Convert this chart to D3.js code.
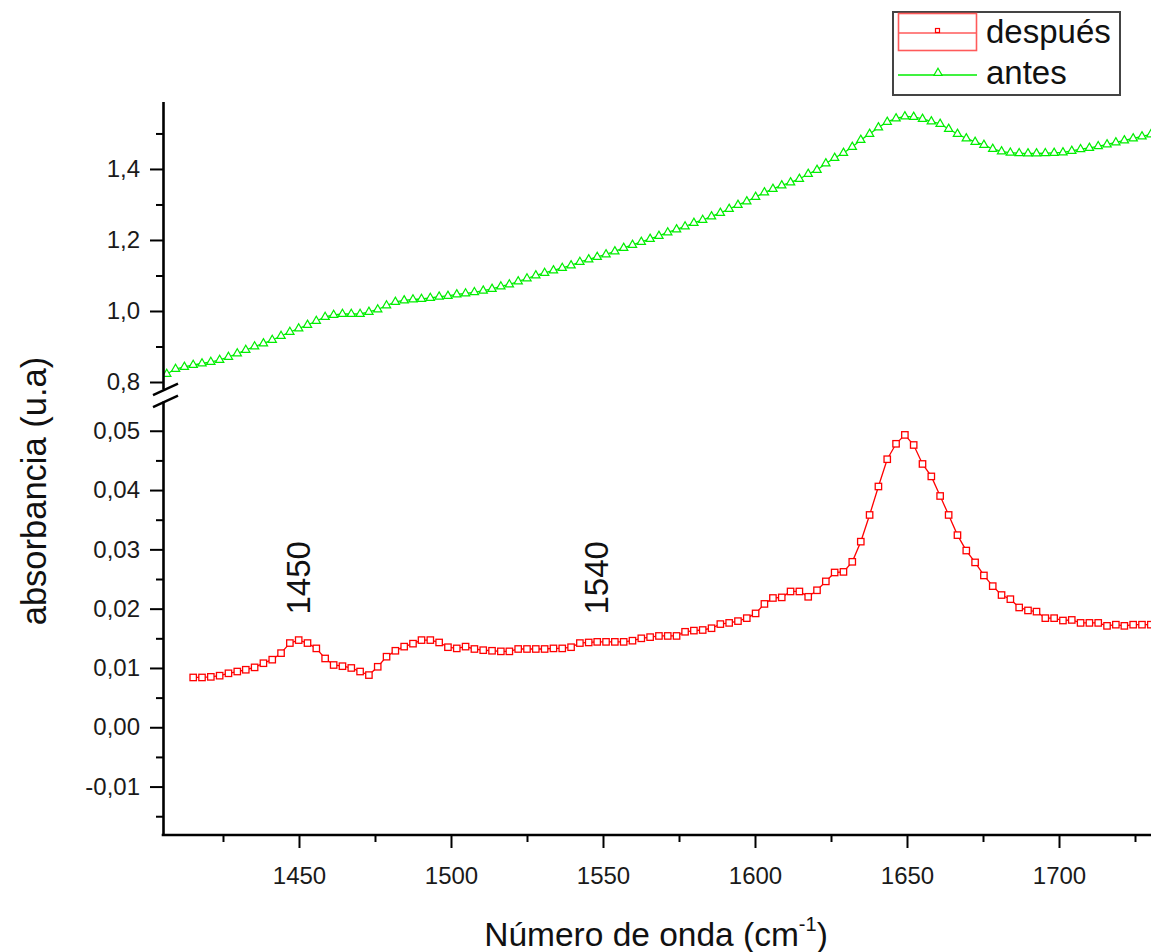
<!DOCTYPE html>
<html>
<head>
<meta charset="utf-8">
<script src="https://cdn.jsdelivr.net/npm/d3@7"></script>
<style>
  body { margin: 0; background: #fff; }
  svg { display: block; }
  text { font-family: "Liberation Sans", Arial, Helvetica, sans-serif; }
</style>
</head>
<body>
<svg id="chart" width="1151" height="952"></svg>
<script>
// Wavenumber grid (cm^-1) shared by both spectra
const wavenumber = [
  1403.6, 1406.5, 1409.4, 1412.3,
  1415.2, 1418.1, 1421.0, 1423.9, 1426.8, 1429.7, 1432.5, 1435.4, 1438.3, 1441.2,
  1444.1, 1447.0, 1449.9, 1452.8, 1455.7, 1458.6, 1461.4, 1464.3, 1467.2, 1470.1,
  1473.0, 1475.9, 1478.8, 1481.7, 1484.6, 1487.5, 1490.3, 1493.2, 1496.1, 1499.0,
  1501.9, 1504.8, 1507.7, 1510.6, 1513.5, 1516.4, 1519.2, 1522.1, 1525.0, 1527.9,
  1530.8, 1533.7, 1536.6, 1539.5, 1542.4, 1545.3, 1548.1, 1551.0, 1553.9, 1556.8,
  1559.7, 1562.6, 1565.5, 1568.4, 1571.3, 1574.2, 1577.0, 1579.9, 1582.8, 1585.7,
  1588.6, 1591.5, 1594.4, 1597.3, 1600.2, 1603.1, 1605.9, 1608.8, 1611.7, 1614.6,
  1617.5, 1620.4, 1623.3, 1626.2, 1629.1, 1632.0, 1634.8, 1637.7, 1640.6, 1643.5,
  1646.4, 1649.3, 1652.2, 1655.1, 1658.0, 1660.9, 1663.7, 1666.6, 1669.5, 1672.4,
  1675.3, 1678.2, 1681.1, 1684.0, 1686.9, 1689.8, 1692.6, 1695.5, 1698.4, 1701.3,
  1704.2, 1707.1, 1710.0, 1712.9, 1715.8, 1718.7, 1721.5, 1724.4, 1727.3, 1730.2
];

// Absorbance after treatment (lower axis segment)
const despues = [
  null, null, null, null,
  0.0084, 0.0084, 0.0085, 0.0087, 0.0091, 0.0094, 0.0097, 0.0101, 0.0108, 0.0114,
  0.0125, 0.0142, 0.0147, 0.0142, 0.0133, 0.0116, 0.0105, 0.0103, 0.0100, 0.0094,
  0.0088, 0.0102, 0.0119, 0.0129, 0.0136, 0.0141, 0.0147, 0.0147, 0.0143, 0.0135,
  0.0133, 0.0136, 0.0132, 0.0130, 0.0129, 0.0128, 0.0128, 0.0132, 0.0132, 0.0132,
  0.0132, 0.0133, 0.0133, 0.0135, 0.0142, 0.0143, 0.0144, 0.0144, 0.0144, 0.0144,
  0.0146, 0.0150, 0.0152, 0.0154, 0.0154, 0.0154, 0.0161, 0.0163, 0.0164, 0.0167,
  0.0174, 0.0176, 0.0179, 0.0184, 0.0192, 0.0208, 0.0218, 0.0219, 0.0229, 0.0229,
  0.0220, 0.0231, 0.0246, 0.0261, 0.0262, 0.0279, 0.0313, 0.0358, 0.0406, 0.0452,
  0.0478, 0.0493, 0.0476, 0.0444, 0.0423, 0.0390, 0.0358, 0.0324, 0.0298, 0.0278,
  0.0256, 0.0238, 0.0223, 0.0216, 0.0202, 0.0197, 0.0195, 0.0184, 0.0184, 0.0180,
  0.0181, 0.0176, 0.0176, 0.0176, 0.0171, 0.0173, 0.0171, 0.0173, 0.0173, 0.0173
];

// Absorbance before treatment (upper axis segment)
const antes = [
  0.8127, 0.8225, 0.8366, 0.8423,
  0.8479, 0.8521, 0.8563, 0.8620, 0.8704, 0.8803, 0.8901, 0.9000, 0.9085, 0.9183,
  0.9296, 0.9408, 0.9507, 0.9606, 0.9718, 0.9831, 0.9887, 0.9915, 0.9915, 0.9915,
  0.9972, 1.0042, 1.0155, 1.0254, 1.0296, 1.0324, 1.0338, 1.0366, 1.0403, 1.0423,
  1.0465, 1.0493, 1.0527, 1.0572, 1.0620, 1.0690, 1.0746, 1.0831, 1.0915, 1.1000,
  1.1070, 1.1141, 1.1211, 1.1282, 1.1380, 1.1451, 1.1521, 1.1592, 1.1676, 1.1775,
  1.1859, 1.1944, 1.2028, 1.2113, 1.2211, 1.2296, 1.2380, 1.2479, 1.2563, 1.2662,
  1.2761, 1.2873, 1.2986, 1.3085, 1.3211, 1.3338, 1.3437, 1.3535, 1.3620, 1.3718,
  1.3859, 1.3972, 1.4155, 1.4310, 1.4451, 1.4620, 1.4817, 1.4986, 1.5169, 1.5324,
  1.5423, 1.5479, 1.5465, 1.5408, 1.5338, 1.5268, 1.5127, 1.4986, 1.4859, 1.4761,
  1.4676, 1.4563, 1.4493, 1.4456, 1.4442, 1.4437, 1.4437, 1.4442, 1.4451, 1.4465,
  1.4507, 1.4555, 1.4592, 1.4639, 1.4690, 1.4746, 1.4803, 1.4859, 1.4915, 1.4972
];

const seriesNames = ["después", "antes"];

const xMajorTicks = [1450, 1500, 1550, 1600, 1650, 1700];
const xMinorTicks = [1425, 1475, 1525, 1575, 1625, 1675, 1725];
const yUpperMajorTicks = [0.8, 1.0, 1.2, 1.4];
const yUpperMinorTicks = [0.9, 1.1, 1.3, 1.5];
const yLowerMajorTicks = [-0.01, 0.00, 0.01, 0.02, 0.03, 0.04, 0.05];
const yLowerMinorTicks = [-0.015, -0.005, 0.005, 0.015, 0.025, 0.035, 0.045];

const bandLabels = ["1450", "1540"];

const xTitle = "Número de onda (cm";
const yTitle = "absorbancia (u.a)";

// ---------------------------------------------------------------
const svg = d3.select("#chart");
const W = 1151, H = 952;

const esLocale = d3.formatLocale({ decimal: ",", thousands: ".", grouping: [3], currency: ["", ""], minus: "-" });
const fmt1 = esLocale.format(".1f");
const fmt2 = esLocale.format(".2f");

const axisX = 163;      // y-axis position
const axisY = 835;      // x-axis position

const x = d3.scaleLinear().domain([1405.3, 1735]).range([163.1, 1165.4]);
const yUp = d3.scaleLinear().domain([0.78, 1.59]).range([389.1, 101.5]);
const yLo = d3.scaleLinear().domain([-0.0182, 0.055]).range([835.2, 401.1]);

const axisColor = "#000";
const red = "#ff0000";
const green = "#00ee00";

// clip for the data
svg.append("defs").append("clipPath").attr("id", "plotClip")
  .append("rect").attr("x", axisX + 1).attr("y", 0).attr("width", W).attr("height", axisY);

const plot = svg.append("g").attr("clip-path", "url(#plotClip)");

// --- antes (green triangles)
const antesPts = wavenumber.map((w, i) => ({ w, v: antes[i] })).filter(d => d.v != null);
plot.append("path")
  .datum(antesPts)
  .attr("fill", "none").attr("stroke", green).attr("stroke-width", 1.3)
  .attr("d", d3.line().x(d => x(d.w)).y(d => yUp(d.v)));
plot.append("g").selectAll("path").data(antesPts).join("path")
  .attr("transform", d => `translate(${x(d.w)},${yUp(d.v)})`)
  .attr("d", d3.symbol().type(d3.symbolTriangle).size(30))
  .attr("fill", "#fff").attr("stroke", green).attr("stroke-width", 1.2);

// --- después (red squares)
const despPts = wavenumber.map((w, i) => ({ w, v: despues[i] })).filter(d => d.v != null);
plot.append("path")
  .datum(despPts)
  .attr("fill", "none").attr("stroke", red).attr("stroke-width", 1.3)
  .attr("d", d3.line().x(d => x(d.w)).y(d => yLo(d.v)));
plot.append("g").selectAll("rect").data(despPts).join("rect")
  .attr("x", d => x(d.w) - 3.2).attr("y", d => yLo(d.v) - 3.2)
  .attr("width", 6.4).attr("height", 6.4)
  .attr("fill", "#fff").attr("stroke", red).attr("stroke-width", 1.3);

// --- axes
function styleAxis(g) {
  g.selectAll("path.domain").attr("stroke", axisColor).attr("stroke-width", 2.6);
  g.selectAll(".tick line").attr("stroke", axisColor).attr("stroke-width", 2);
  g.selectAll(".tick text").attr("fill", "#1a1a1a").attr("font-family", null);
}

// x axis
const gx = svg.append("g").attr("transform", `translate(0,${axisY})`);
gx.call(d3.axisBottom(x).tickValues(xMajorTicks).tickSize(13).tickSizeOuter(0).tickPadding(19).tickFormat(d3.format("d")))
  .call(styleAxis)
  .call(g => g.selectAll(".tick text").attr("font-size", 24));
gx.select("path.domain").attr("d", `M${axisX - 1.3},0H${W + 20}`);
svg.append("g").attr("transform", `translate(0,${axisY})`)
  .call(d3.axisBottom(x).tickValues(xMinorTicks).tickSize(7).tickFormat(""))
  .call(styleAxis)
  .call(g => g.select("path.domain").remove());

// y axis, upper segment
svg.append("g").attr("transform", `translate(${axisX},0)`)
  .call(d3.axisLeft(yUp).tickValues(yUpperMajorTicks).tickSize(13).tickSizeOuter(0).tickPadding(10).tickFormat(fmt1))
  .call(styleAxis)
  .call(g => g.selectAll(".tick text").attr("font-size", 24));
svg.append("g").attr("transform", `translate(${axisX},0)`)
  .call(d3.axisLeft(yUp).tickValues(yUpperMinorTicks).tickSize(7).tickFormat(""))
  .call(styleAxis)
  .call(g => g.select("path.domain").remove());

// y axis, lower segment
svg.append("g").attr("transform", `translate(${axisX},0)`)
  .call(d3.axisLeft(yLo).tickValues(yLowerMajorTicks).tickSize(13).tickSizeOuter(0).tickPadding(10).tickFormat(fmt2))
  .call(styleAxis)
  .call(g => g.selectAll(".tick text").attr("font-size", 24));
svg.append("g").attr("transform", `translate(${axisX},0)`)
  .call(d3.axisLeft(yLo).tickValues(yLowerMinorTicks).tickSize(7).tickFormat(""))
  .call(styleAxis)
  .call(g => g.select("path.domain").remove());

// break marks on the y axis
const brk = svg.append("g").attr("stroke", axisColor).attr("stroke-width", 2.4).attr("fill", "none");
[yUp.range()[0] + 1, yLo.range()[1] + 1].forEach(yy => {
  brk.append("line")
    .attr("x1", axisX - 10).attr("y1", yy + 5)
    .attr("x2", axisX + 15).attr("y2", yy - 6.5);
});

// axis titles
const xt = svg.append("text")
  .attr("x", 656).attr("y", 946)
  .attr("text-anchor", "middle").attr("font-size", 33.5).attr("fill", "#111");
xt.append("tspan").text(xTitle);
xt.append("tspan").attr("font-size", 20).attr("dy", -15).text("-1");
xt.append("tspan").attr("dy", 15).text(")");

svg.append("text")
  .attr("transform", `translate(46,491) rotate(-90)`)
  .attr("text-anchor", "middle").attr("font-size", 34.5).attr("fill", "#111")
  .text(yTitle);

// band annotations
const bandAnchors = [{ w: 1453.6, v: 0.0252 }, { w: 1551.5, v: 0.0252 }];
bandLabels.forEach((t, i) => {
  svg.append("text")
    .attr("transform", `translate(${x(bandAnchors[i].w)},${yLo(bandAnchors[i].v)}) rotate(-90)`)
    .attr("text-anchor", "middle").attr("font-size", 33).attr("fill", "#111")
    .text(t);
});

// legend
const lg = svg.append("g");
lg.append("rect").attr("x", 893).attr("y", 12).attr("width", 227).attr("height", 83)
  .attr("fill", "#fff").attr("stroke", "#444").attr("stroke-width", 2);
// después swatch
lg.append("rect").attr("x", 898.5).attr("y", 13.5).attr("width", 78).attr("height", 37)
  .attr("fill", "none").attr("stroke", "#ff5a5a").attr("stroke-width", 1.6);
lg.append("line").attr("x1", 898.5).attr("x2", 976.5).attr("y1", 33).attr("y2", 33)
  .attr("stroke", "#ff5a5a").attr("stroke-width", 1.6);
lg.append("rect").attr("x", 935.5).attr("y", 28.5).attr("width", 4).attr("height", 4)
  .attr("fill", "#fff").attr("stroke", red).attr("stroke-width", 1.2);
lg.append("text").attr("x", 986).attr("y", 43).attr("font-size", 33).attr("fill", "#111").text(seriesNames[0]);
// antes swatch
lg.append("line").attr("x1", 898).attr("x2", 977).attr("y1", 75).attr("y2", 75)
  .attr("stroke", green).attr("stroke-width", 1.4);
lg.append("path").attr("transform", "translate(938,73)")
  .attr("d", d3.symbol().type(d3.symbolTriangle).size(30))
  .attr("fill", "#fff").attr("stroke", green).attr("stroke-width", 1.2);
lg.append("text").attr("x", 986).attr("y", 84).attr("font-size", 33).attr("fill", "#111").text(seriesNames[1]);
</script>
</body>
</html>
